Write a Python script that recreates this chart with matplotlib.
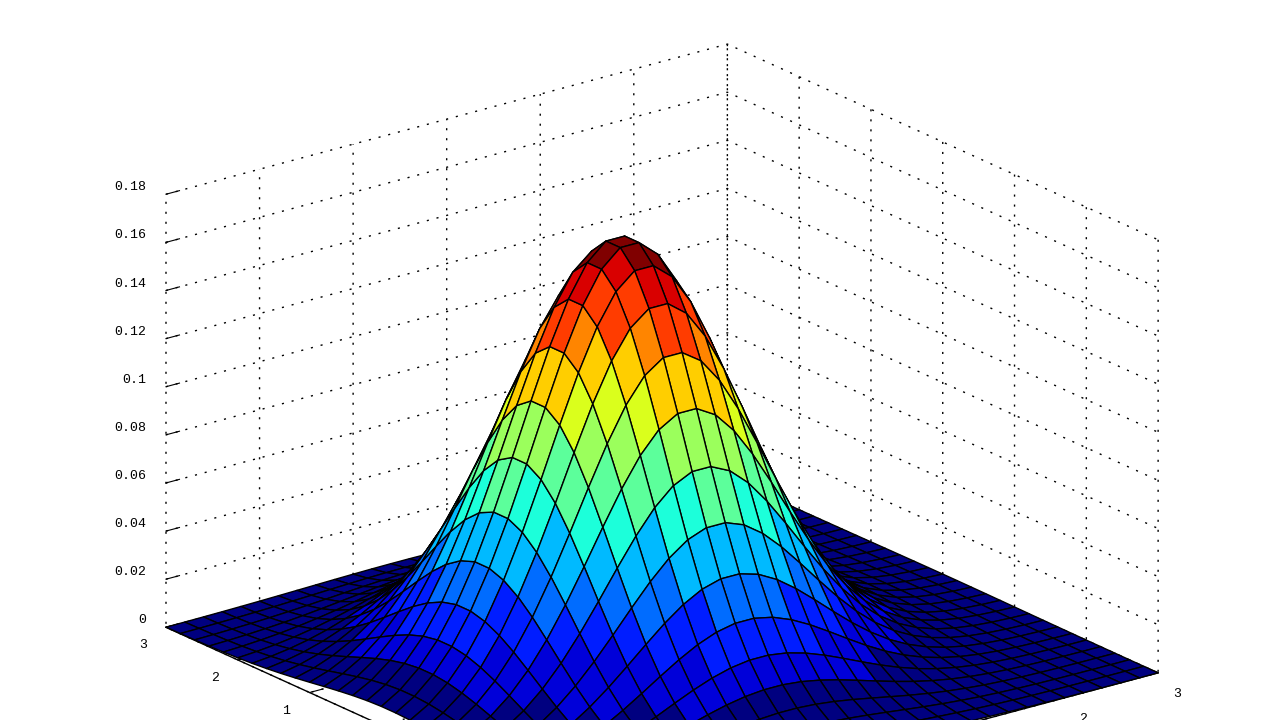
import numpy as np
import matplotlib
matplotlib.use("Agg")
import matplotlib.pyplot as plt

# relative height along each floor axis, one value per grid line
# estimated by fitting a bell shape to the picture by eye, not exact readings
x_profile = [.0439, .0710, .1103, .1645, .2357, .3247, .4296, .5461, .6670, .7827, .8825,
             .9560, .9950, .9950, .9560, .8825, .7827, .6670, .5461, .4296, .3247, .2357,
             .1645, .1103, .0710, .0439, .0261, .0149, .0082, .0043, .0022]
y_profile = [.0149, .0261, .0439, .0710, .1103, .1645, .2357, .3247, .4296, .5461, .6670,
             .7827, .8825, .9560, .9950, .9950, .9560, .8825, .7827, .6670, .5461, .4296,
             .3247, .2357, .1645, .1103, .0710, .0439, .0261, .0149, .0082]
peak_height = 0.178

floor_ticks = [-3, -2, -1, 0, 1, 2, 3]
z_ticks = [0, 0.02, 0.04, 0.06, 0.08, 0.1, 0.12, 0.14, 0.16, 0.18]
z_tick_labels = ["0", "0.02", "0.04", "0.06", "0.08", "0.1", "0.12", "0.14", "0.16", "0.18"]

x = np.linspace(-3, 3, len(x_profile))
y = np.linspace(-3, 3, len(y_profile))
X, Y = np.meshgrid(x, y)
Z = peak_height * np.outer(y_profile, x_profile)

# stepped jet, each cell takes one flat colour
cmap = plt.get_cmap("jet", 14)
colors = cmap(Z / Z.max())

W = 1070
fig = plt.figure(figsize=(12.8, 7.2), dpi=100)
ax = fig.add_axes([(647.6 - W / 2) / 1280, (272 - W / 2) / 720, W / 1280, W / 720], projection="3d", proj_type="ortho")
ax.view_init(elev=20.4, azim=-127.5)
ax.set_box_aspect((1, 1, 0.653))

ax.plot_surface(X, Y, Z, facecolors=colors, rstride=1, cstride=1, shade=False,
                edgecolor="black", linewidth=1.0)

ax.set_xlim(-3, 3)
ax.set_ylim(-3, 3)
ax.set_zlim(0, 0.18)
ax.set_xticks(floor_ticks)
ax.set_yticks(floor_ticks)
ax.set_zticks(z_ticks)
ax.set_zticklabels(z_tick_labels)

for axis in [ax.xaxis, ax.yaxis, ax.zaxis]:
    axis.set_pane_color((1, 1, 1, 1))
    axis.pane.set_edgecolor("white")
    axis._axinfo["grid"].update(color="black", linewidth=1.0, linestyle=(0, (1.5, 5.7)))
    axis._axinfo["tick"]["inward_factor"] = 0
    axis._axinfo["tick"]["outward_factor"] = 0.3
    axis.line.set_color("black")
    axis.line.set_linewidth(1.0)
ax.zaxis.line.set_visible(False)
ax.xaxis.set_tick_params(labelsize=9.5, pad=9.5)
ax.yaxis.set_tick_params(labelsize=9.5, pad=8.5)
ax.zaxis.set_tick_params(labelsize=9.5, pad=0)
for label in ax.get_xticklabels() + ax.get_yticklabels() + ax.get_zticklabels():
    label.set_family("Liberation Mono")
    label.set_va("bottom")
for label in ax.get_zticklabels():
    label.set_ha("right")

fig.savefig("out.png", dpi=100)
